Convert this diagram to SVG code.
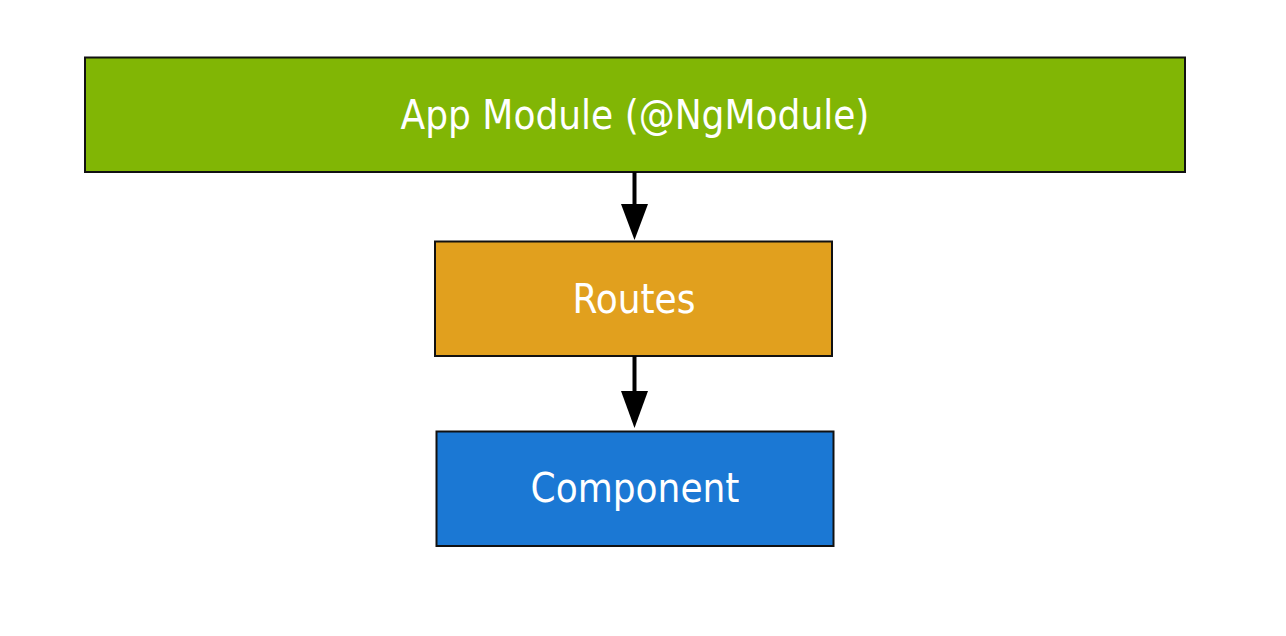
<svg xmlns="http://www.w3.org/2000/svg" width="1286" height="636" viewBox="0 0 1286 636">
<style>
.box{stroke:#111;stroke-width:2}
.lbl{font-family:"DejaVu Sans Condensed","DejaVu Sans",sans-serif;font-size:40px;fill:#fff;text-anchor:middle}
.edge{stroke:#000;stroke-width:4;fill:none}
.head{fill:#000}
</style>
<rect width="1286" height="636" fill="#fff"/>
<g id="app">
<rect class="box" x="85" y="57.5" width="1100" height="114.5" fill="#81b605"/>
<text class="lbl" x="635" y="129">App Module (@NgModule)</text>
</g>
<g id="routes">
<rect class="box" x="435" y="241.5" width="397" height="114.5" fill="#e1a01e"/>
<text class="lbl" x="634" y="313">Routes</text>
</g>
<g id="component">
<rect class="box" x="436.5" y="431.5" width="397" height="114.5" fill="#1b78d4"/>
<text class="lbl" x="635" y="502">Component</text>
</g>
<g id="connectors">
<line class="edge" x1="634.5" y1="172" x2="634.5" y2="206"/>
<polygon class="head" points="621,204 648,204 634.5,240"/>
<line class="edge" x1="634.5" y1="356" x2="634.5" y2="393"/>
<polygon class="head" points="621,391 648,391 634.5,428"/>
</g>
</svg>
